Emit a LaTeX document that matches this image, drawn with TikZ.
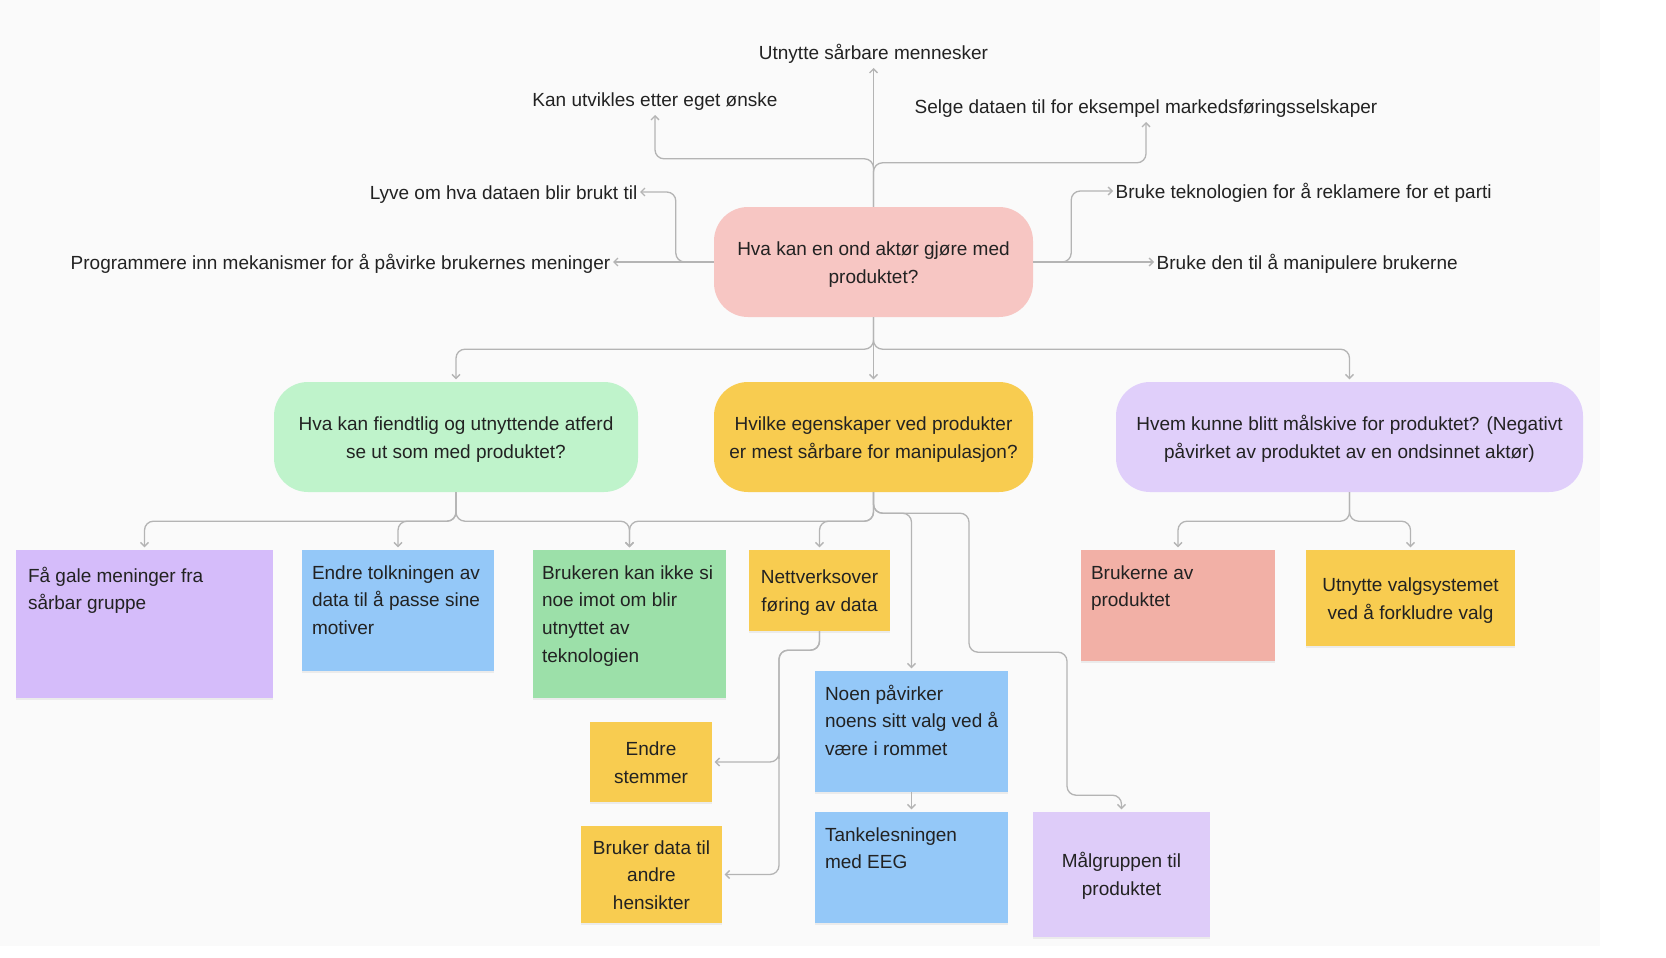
\documentclass[tikz,border=0pt]{standalone}
\usepackage{fontspec}
\setmainfont{Liberation Sans}
\usetikzlibrary{arrows.meta,shadows}
\definecolor{bg}{HTML}{FAFAFA}
\definecolor{txt}{HTML}{222222}
\definecolor{ln}{HTML}{B4B4B4}
\definecolor{cpink}{HTML}{F7C6C3}
\definecolor{cgreenL}{HTML}{BFF3CB}
\definecolor{cyellow}{HTML}{F8CC50}
\definecolor{clavL}{HTML}{E0CFFA}
\definecolor{cpurple}{HTML}{D5BCFA}
\definecolor{cblue}{HTML}{94C8F8}
\definecolor{cgreen}{HTML}{9CE0A9}
\definecolor{csalmon}{HTML}{F2B0A6}
\definecolor{clav}{HTML}{DECCF9}
\newcommand\myTop{\rule{0pt}{19.5pt}}
\newcommand\myBot{\rule[-5pt]{0pt}{5pt}}
\tikzset{
  base/.style={font=\fontsize{19}{27.6}\selectfont, text=txt},
  leaf/.style={base, text height=16pt, text depth=1pt, inner xsep=2.5pt, inner ysep=7.5pt},
  bigbox/.style={base, inner sep=0pt, align=center, rounded corners=34pt, minimum height=110pt},
  sticky/.style={base, inner sep=0pt, align=center, drop shadow={shadow xshift=0pt, shadow yshift=-1.5pt, opacity=0.12}},
  toptext/.style={base, inner sep=0pt, anchor=north west, align=left},
  conn/.style={draw=ln, line width=1.3pt, rounded corners=9pt, -{Straight Barb[length=4pt,width=8pt]}},
  tobox/.style={conn, shorten >=2.5pt}
}
\begin{document}
\begin{tikzpicture}[x=1pt,y=-1pt]
\useasboundingbox (0,0) rectangle (1666,958);
\fill[bg] (0,0) rectangle (1600,946);

% root
\node[bigbox, fill=cpink, minimum width=319pt] (r) at (873.5,262) {\myTop Hva kan en ond aktør gjøre med\\produktet?\myBot};

% top leaves
\node[leaf, anchor=south] (utn) at (873.5,68) {Utnytte sårbare mennesker};
\node[leaf, anchor=south] (kan) at (655,115) {Kan utvikles etter eget ønske};
\node[leaf, anchor=south] (sel) at (1146,122) {Selge dataen til for eksempel markedsføringsselskaper};
\node[leaf, anchor=east] (lyve) at (640,192) {Lyve om hva dataen blir brukt til};
\node[leaf, anchor=east] (prog) at (613,262) {Programmere inn mekanismer for å påvirke brukernes meninger};
\node[leaf, anchor=west] (btek) at (1113,191) {Bruke teknologien for å reklamere for et parti};
\node[leaf, anchor=west] (bden) at (1154,262) {Bruke den til å manipulere brukerne};

\draw[conn] (r.north) -- (utn.south);
\draw[conn] (r.north) -- ++(0,-48) -| (kan.south);
\draw[conn] (r.north) -- ++(0,-44) -| (sel.south);
\draw[conn] (r.west) -- (prog.east);
\draw[conn] (r.west) -- ++(-38,0) |- (lyve.east);
\draw[conn] (r.east) -- (bden.west);
\draw[conn] (r.east) -- ++(38,0) |- (btek.west);

% level 2
\node[bigbox, fill=cgreenL, minimum width=364pt] (g2) at (456,437) {\myTop Hva kan fiendtlig og utnyttende atferd\\se ut som med produktet?\myBot};
\node[bigbox, fill=cyellow, minimum width=319pt] (y2) at (873.5,437) {\myTop Hvilke egenskaper ved produkter\\er mest sårbare for manipulasjon?\myBot};
\node[bigbox, fill=clavL, minimum width=467pt] (l2) at (1349.5,437) {\myTop Hvem kunne blitt målskive for produktet? (Negativt\\påvirket av produktet av en ondsinnet aktør)\myBot};

\draw[tobox] (r.south) -- (y2.north);
\draw[tobox] (r.south) -- ++(0,32) -| (g2.north);
\draw[tobox] (r.south) -- ++(0,32) -| (l2.north);

% stickies
\node[sticky, fill=cpurple, minimum width=257pt, minimum height=148pt] (fa) at (144.5,624) {};
\node[toptext] (fat) at ([xshift=12pt,yshift=-13pt]fa.north west) {\strut Få gale meninger fra\\sårbar gruppe};

\node[sticky, fill=cblue, minimum width=192pt, minimum height=121pt] (et) at (398,610.5) {};
\node[toptext] (ett) at ([xshift=10pt,yshift=-10pt]et.north west) {\strut Endre tolkningen av\\data til å passe sine\\motiver};

\node[sticky, fill=cgreen, minimum width=193pt, minimum height=148pt] (bk) at (629.5,624) {};
\node[toptext] (bkt) at ([xshift=9pt,yshift=-10pt]bk.north west) {\strut Brukeren kan ikke si\\noe imot om blir\\utnyttet av\\teknologien};

\node[sticky, fill=cyellow, minimum width=141pt, minimum height=81pt] (nv) at (819.5,590.5) {\myTop Nettverksover\\føring av data\myBot};

\node[sticky, fill=csalmon, minimum width=194pt, minimum height=111pt] (bra) at (1178,605.5) {};
\node[toptext] (brat) at ([xshift=10pt,yshift=-10pt]bra.north west) {\strut Brukerne av\\produktet};

\node[sticky, fill=cyellow, minimum width=209pt, minimum height=96pt] (uv) at (1410.5,598) {\myTop Utnytte valgsystemet\\ved å forkludre valg\myBot};

\node[sticky, fill=cblue, minimum width=193pt, minimum height=121pt] (noen) at (911.5,731.5) {};
\node[toptext] (noent) at ([xshift=10pt,yshift=-10pt]noen.north west) {\strut Noen påvirker\\noens sitt valg ved å\\være i rommet};

\node[sticky, fill=cyellow, minimum width=122pt, minimum height=80pt] (es) at (651,762) {\myTop Endre\\stemmer\myBot};
\node[sticky, fill=cyellow, minimum width=141pt, minimum height=97pt] (bd) at (651.5,874.5) {\myTop Bruker data til\\andre\\hensikter\myBot};

\node[sticky, fill=cblue, minimum width=193pt, minimum height=111pt] (tank) at (911.5,867.5) {};
\node[toptext] (tankt) at ([xshift=10pt,yshift=-10pt]tank.north west) {\strut Tankelesningen\\med EEG};

\node[sticky, fill=clav, minimum width=177pt, minimum height=125pt] (mal) at (1121.5,874.5) {\myTop Målgruppen til\\produktet\myBot};

% connectors level 2 -> stickies
\draw[tobox] (g2.south) -- ++(0,29) -| (fa.north);
\draw[tobox] (g2.south) -- ++(0,29) -| (et.north);
\draw[tobox] (g2.south) -- ++(0,29) -| (bk.north);
\draw[tobox] (y2.south) -- ++(0,29) -| (bk.north);
\draw[tobox] (y2.south) -- ++(0,29) -| (nv.north);
\draw[tobox] (y2.south) -- ++(0,21) -| (noen.north);
\draw[tobox] (y2.south) -- ++(0,21) -| ++(95.5,139) -| ++(98,143) -| (mal.north);
\draw[tobox] (nv.south) -- ++(0,19) -| ++(-40.5,100) |- (es.east);
\draw[tobox] (nv.south) -- ++(0,19) -| ++(-40.5,100) |- (bd.east);
\draw[tobox] (noen.south) -- (tank.north);
\draw[tobox] (l2.south) -- ++(0,29) -| (bra.north);
\draw[tobox] (l2.south) -- ++(0,29) -| (uv.north);
\end{tikzpicture}
\end{document}
